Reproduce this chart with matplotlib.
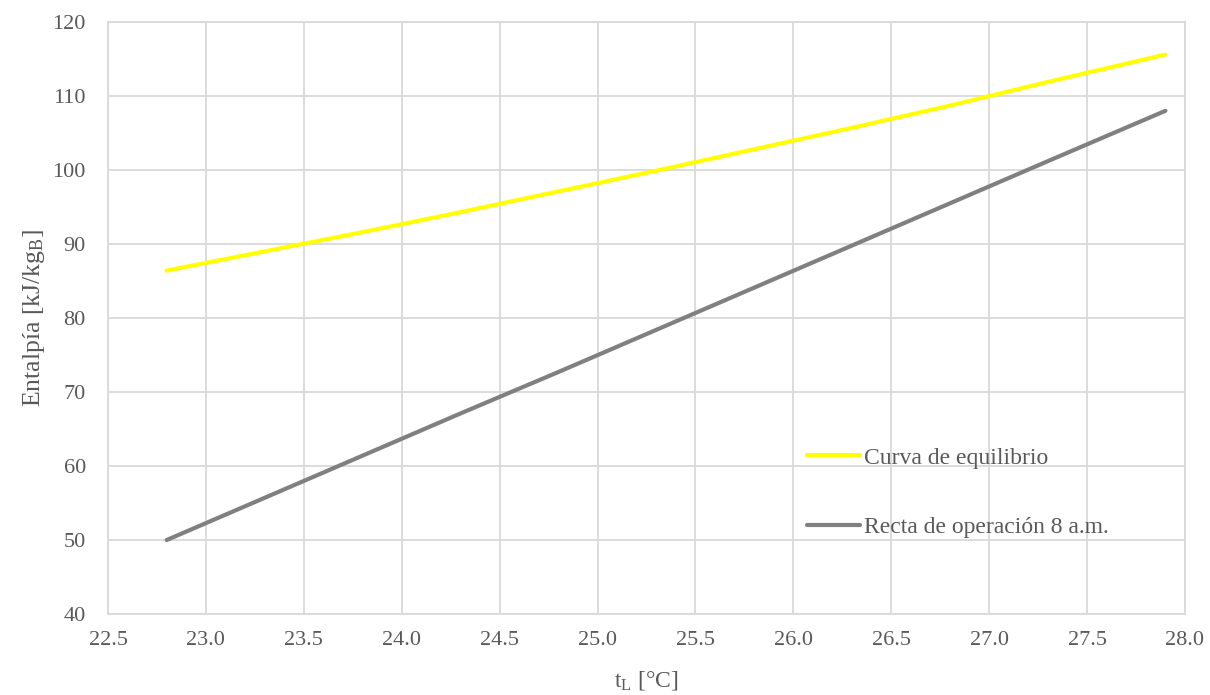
import matplotlib
matplotlib.use('Agg')
import matplotlib.pyplot as plt
from matplotlib.ticker import MultipleLocator, FormatStrFormatter

t_L = [22.8, 23.3, 23.8, 24.3, 24.8, 25.3, 25.8, 26.3, 26.8, 27.3, 27.9]
curva_equilibrio = [86.4, 89.0, 91.6, 94.3, 97.1, 99.9, 102.8, 105.7, 108.7, 111.9, 115.6]
recta_operacion = [50.0, 55.7, 61.4, 67.1, 72.7, 78.4, 84.1, 89.8, 95.5, 101.2, 108.0]

plt.rcParams['font.family'] = ['Liberation Serif', 'DejaVu Serif']
plt.rcParams['mathtext.fontset'] = 'custom'
plt.rcParams['mathtext.rm'] = 'Liberation Serif'
plt.rcParams['mathtext.it'] = 'Liberation Serif:italic'

txt = '#595959'
grid = '#d9d9d9'

fig = plt.figure(figsize=(12.1, 6.95), dpi=100)
ax = fig.add_axes([108/1210, 1 - 614/695, 1077/1210, 592/695])

ax.plot(t_L, curva_equilibrio, color='#ffff00', lw=3.0, label='Curva de equilibrio', solid_capstyle='round')
ax.plot(t_L, recta_operacion, color='#808080', lw=3.0, label='Recta de operación 8 a.m.', solid_capstyle='round')

ax.set_xlim(22.5, 28.0)
ax.set_ylim(40, 120)
ax.xaxis.set_major_locator(MultipleLocator(0.5))
ax.xaxis.set_major_formatter(FormatStrFormatter('%.1f'))
ax.yaxis.set_major_locator(MultipleLocator(10))
ax.grid(True, color=grid, lw=1.3)
ax.set_axisbelow(True)
for s in ax.spines.values():
    s.set_color(grid)
    s.set_linewidth(1.3)
ax.tick_params(length=0, labelsize=16, colors=txt)
ax.tick_params(axis='y', pad=16)
ax.tick_params(axis='x', pad=12)

ax.set_xlabel('t$_\\mathrm{L}$ [°C]', fontsize=17, color=txt, labelpad=14)
ax.set_ylabel('Entalpía [kJ/kg$_\\mathrm{B}$]', fontsize=18.5, color=txt, labelpad=4)

leg = ax.legend(loc='upper left', bbox_to_anchor=(0.629, 0.318), frameon=False,
                fontsize=17, labelspacing=2.05, handlelength=2.25, handletextpad=0.17)
for tx in leg.get_texts():
    tx.set_color(txt)

fig.savefig('out.png', dpi=100)
